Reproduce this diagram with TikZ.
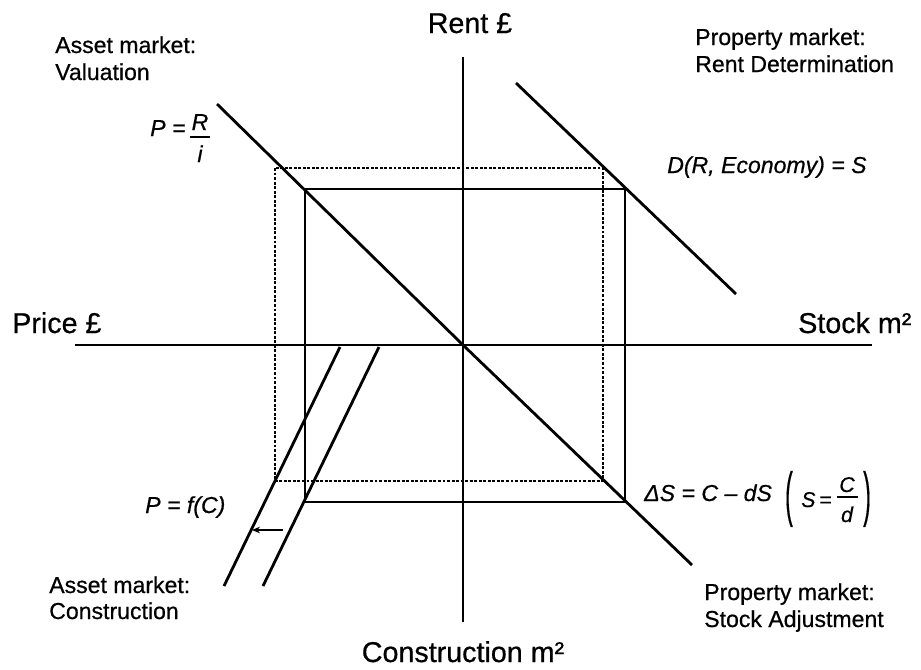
\documentclass[tikz,border=0pt]{standalone}
\usepackage{fontspec}
\setmainfont{Liberation Sans}[FakeBold=0.6]
\usetikzlibrary{arrows.meta}
\begin{document}
\begin{tikzpicture}[x=0.75pt,y=-0.75pt,
  axis/.style={line width=1.4pt},
  curve/.style={line width=2.1pt, line join=round},
  box/.style={line width=1.4pt},
  dotbox/.style={line width=1.5pt, dash pattern=on 2.2pt off 1.2pt},
  big/.style={font=\fontsize{21.5}{25}\selectfont, inner sep=0pt},
  lab/.style={font=\fontsize{17.3}{20}\selectfont, inner sep=0pt},
  eq/.style={font=\fontsize{17.3}{20}\selectfont\itshape, inner sep=0pt},
  eqs/.style={font=\fontsize{16}{19}\selectfont\itshape, inner sep=0pt},
  shiftarrow/.style={line width=1pt, -{Stealth[length=6pt,width=5pt]}}]
\useasboundingbox (0,0) rectangle (921,669);
% axes
\coordinate (O) at (463,345);
\coordinate (yt) at (463,57);
\coordinate (yb) at (463,622);
\coordinate (xl) at (75,345);
\coordinate (xr) at (872,345);
\draw[axis] (yt) -- (yb);
\draw[axis] (xl) -- (xr);
% rectangles
\coordinate (d1) at (275,168);
\coordinate (d2) at (603,481);
\coordinate (s1) at (305,189);
\coordinate (s2) at (625,502);
\draw[dotbox] (d1) rectangle (d2);
\draw[box] (s1) rectangle (s2);
% curves
\coordinate (v1) at (217,104);
\coordinate (v2) at (692,565);
\draw[curve] (v1) -- (O) -- (v2);
\coordinate (r1) at (516,83);
\coordinate (r2) at (736,294);
\draw[curve] (r1) -- (r2);
\coordinate (c1a) at (340,347);
\coordinate (c1b) at (224,586);
\draw[curve] (c1a) -- (c1b);
\coordinate (c2a) at (379,347);
\coordinate (c2b) at (263,586);
\draw[curve] (c2a) -- (c2b);
\coordinate (aS) at (283,530);
\coordinate (aE) at (252,530);
\draw[shiftarrow] (aS) -- (aE);
% axis labels
\node[big, anchor=base] (rent) at (470,33) {Rent £};
\node[big, anchor=base west] (price) at (12,333) {Price £};
\node[big, anchor=base west] (stock) at (798,333) {Stock m²};
\node[big, anchor=base] (constr) at (463,662) {Construction m²};
% quadrant labels
\node[lab, anchor=base west] (am1) at (55,53) {Asset market:};
\node[lab, anchor=base west] (am2) at (55,80) {Valuation};
\node[lab, anchor=base west] (pm1) at (695,45) {Property market:};
\node[lab, anchor=base west] (pm2) at (695,72) {Rent Determination};
\node[lab, anchor=base west] (ac1) at (49,593) {Asset market:};
\node[lab, anchor=base west] (ac2) at (49,619) {Construction};
\node[lab, anchor=base west] (ps1) at (704,600) {Property market:};
\node[lab, anchor=base west] (ps2) at (704,627) {Stock Adjustment};
% equations
\node[eq, anchor=base west] (dem) at (667,173) {D(R, Economy) = S};
\node[eq, anchor=base west] (peq) at (150,136) {P =};
\node[eq, anchor=base] (pR) at (200,130) {R};
\draw[line width=1.1pt] (190,137) -- (210,137);
\node[eq, anchor=base] (pi) at (200,162) {i};
\node[eq, anchor=base west] (pf) at (145,513) {P = f(C)};
\node[eq, anchor=base west] (ds) at (644,501) {ΔS = C – dS};
\node[inner sep=0pt, font=\fontsize{17.3}{20}\selectfont] (lp) at (789,499) {\scalebox{1}[2.6]{(}};
\node[eqs, anchor=base west] (sS) at (801,507) {S\,=};
\node[eqs, anchor=base] (sC) at (847,492) {C};
\draw[line width=1.1pt] (837,497) -- (858,497);
\node[eqs, anchor=base] (sd) at (847,522) {d};
\node[inner sep=0pt, font=\fontsize{17.3}{20}\selectfont] (rp) at (867,499) {\scalebox{1}[2.6]{)}};
\end{tikzpicture}
\end{document}
